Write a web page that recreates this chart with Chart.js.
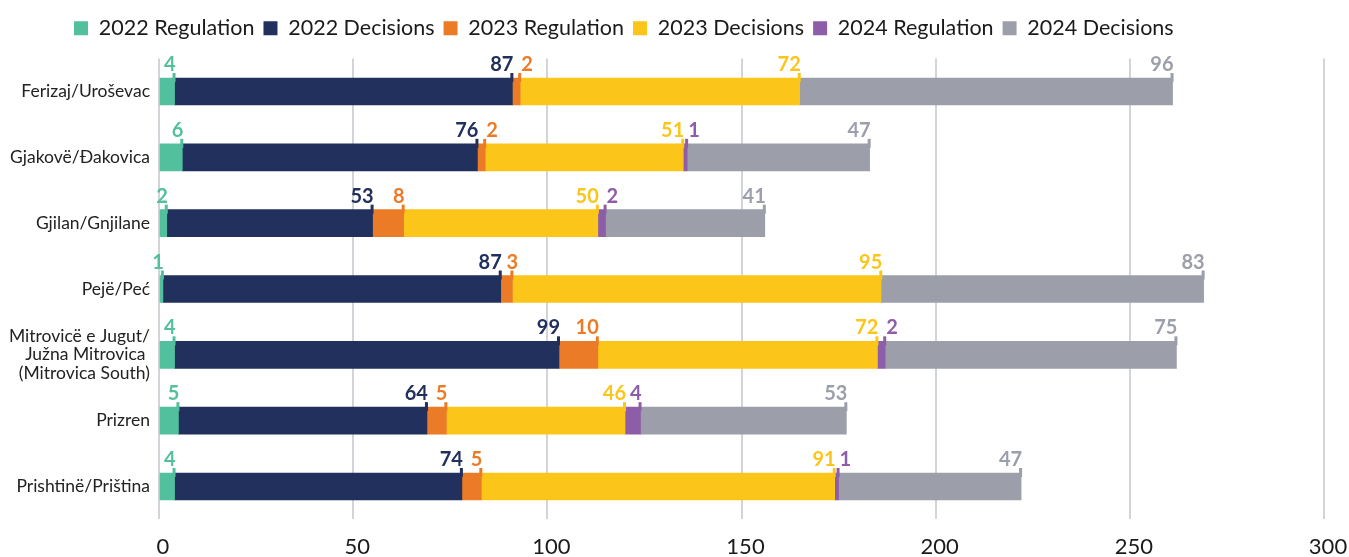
<!DOCTYPE html>
<html><head><meta charset="utf-8">
<script src="https://cdn.jsdelivr.net/npm/chart.js@4.4.0/dist/chart.umd.min.js"></script>
<style>html,body{margin:0;padding:0;background:#fff;}#wrap{position:relative;width:1349px;height:557px;}</style>
</head><body><div id="wrap"><canvas id="c" width="1349" height="557"></canvas></div>
<script>
const categories = ["Ferizaj/Uroševac", "Gjakovë/Đakovica", "Gjilan/Gnjilane", "Pejë/Peć", ["Mitrovicë e Jugut/", "Južna Mitrovica ", "(Mitrovica South)"], "Prizren", "Prishtinë/Priština"];
const seriesNames = ["2022 Regulation", "2022 Decisions", "2023 Regulation", "2023 Decisions", "2024 Regulation", "2024 Decisions"];
const reg2022 = [4, 6, 2, 1, 4, 5, 4];
const dec2022 = [87, 76, 53, 87, 99, 64, 74];
const reg2023 = [2, 2, 8, 3, 10, 5, 5];
const dec2023 = [72, 51, 50, 95, 72, 46, 91];
const reg2024 = [0, 1, 2, 0, 2, 4, 1];
const dec2024 = [96, 47, 41, 83, 75, 53, 47];
const xTicks = [0, 50, 100, 150, 200, 250, 300];
const colors = ["#52BF9D", "#21305C", "#EC7B27", "#FBC619", "#8D5EA7", "#9C9FAA"];

const seriesValues = [reg2022, dec2022, reg2023, dec2023, reg2024, dec2024];
const datasets = seriesNames.map((name, i) => ({
  label: name, data: seriesValues[i], backgroundColor: colors[i],
  borderWidth: 0, barThickness: 27, stack: 's'
}));

const legendPad = {
  id: 'legendPad',
  beforeInit(chart) {
    if (!chart.legend) return;
    const f = chart.legend.fit;
    chart.legend.fit = function () { f.call(this); this.height = 50; };
  },
  afterLayout(chart) {
    if (chart.legend) chart.legend.left = 65;
  }
};

const segLabels = {
  id: 'segLabels',
  afterDatasetsDraw(chart) {
    const ctx = chart.ctx;
    ctx.save();
    ctx.font = "bold 20px Lato";
    ctx.textBaseline = 'alphabetic';
    ctx.textAlign = 'left';
    const n = chart.data.labels.length;
    for (let j = 0; j < n; j++) {
      let prevRight = -Infinity;
      chart.data.datasets.forEach((ds, i) => {
        const el = chart.getDatasetMeta(i).data[j];
        const v = ds.data[j];
        if (!v || !el) return;
        const top = el.y - el.height / 2;
        const xe = el.x;
        ctx.fillStyle = ds.backgroundColor;
        ctx.fillRect(xe - 2, top - 5, 3, 9);
        const txt = String(v);
        const w = ctx.measureText(txt).width;
        let left = xe + 1 - w;
        if (left < prevRight + 2) left = xe - w / 2;
        if (left < prevRight + 2) left = xe + 1;
        if (left < prevRight + 2) left = prevRight + 2;
        ctx.fillText(txt, left, top - 7);
        prevRight = left + w;
      });
    }
    ctx.restore();
  }
};

new Chart(document.getElementById('c'), {
  type: 'bar',
  data: { labels: categories, datasets },
  plugins: [legendPad, segLabels],
  options: {
    indexAxis: 'y',
    responsive: false,
    animation: false,
    devicePixelRatio: 1,
    layout: { padding: { left: 0, right: 25, top: 8.6, bottom: 0 } },
    plugins: {
      tooltip: { enabled: false },
      legend: {
        position: 'top', align: 'start',
        labels: { boxWidth: 14, boxHeight: 14, padding: 9, color: '#1a1a1a', font: { family: 'Lato', size: 21.5 } }
      }
    },
    scales: {
      x: {
        stacked: true, min: 0, max: 300,
        afterBuildTicks: s => { s.ticks = xTicks.map(v => ({ value: v })); },
        afterFit: s => { s.height = 37.6; s.paddingRight = 0; s.paddingLeft = 0; },
        grid: { color: '#D1D4D9', lineWidth: 2, drawTicks: false },
        border: { display: false },
        ticks: { color: '#1a1a1a', padding: 14, labelOffset: 4, font: { family: 'Lato', size: 22 } }
      },
      y: {
        stacked: true,
        afterFit: s => { s.width = 159; },
        grid: { display: false, drawTicks: false },
        border: { display: false },
        ticks: { color: '#222', padding: 9, font: { family: 'Lato', size: 17.5, lineHeight: 1.05 } }
      }
    }
  }
});
</script></body></html>
